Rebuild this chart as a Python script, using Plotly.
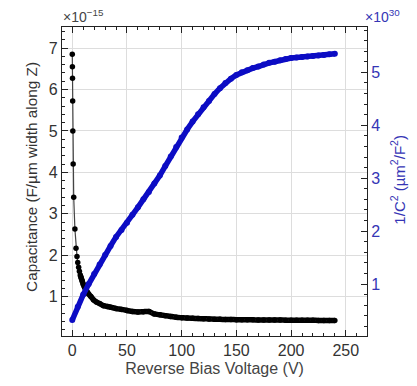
import plotly.graph_objects as go

# Capacitance (x1e-15 F/um) vs reverse bias voltage
cap_v = [0, 0.1, 0.2, 0.35, 0.5, 0.8, 1.3, 2.4, 3.4, 4.3, 5, 5.8, 6.5, 7.3, 8, 9, 10, 11, 12,
         13.4, 15, 17, 19.5, 22, 25, 28.6, 32, 35, 40, 45, 50, 55, 60, 65, 70, 75, 80, 85,
         90, 95, 100, 105, 110, 115, 120, 125, 130, 135, 140, 145, 150, 155, 160, 165, 170,
         175, 180, 185, 190, 195, 200, 205, 210, 215, 220, 225, 230, 235, 240]
cap_c = [6.85, 6.55, 6.27, 5.72, 5.0, 4.2, 3.4, 2.63, 2.17, 1.97, 1.82, 1.71, 1.61, 1.52,
         1.46, 1.38, 1.30, 1.24, 1.18, 1.12, 1.06, 1.00, 0.92, 0.87, 0.83, 0.78, 0.76, 0.745,
         0.71, 0.69, 0.665, 0.64, 0.63, 0.635, 0.64, 0.58, 0.56, 0.54, 0.52, 0.50, 0.49, 0.48,
         0.475, 0.47, 0.465, 0.46, 0.455, 0.45, 0.447, 0.445, 0.443, 0.441, 0.44, 0.438,
         0.436, 0.435, 0.434, 0.433, 0.432, 0.431, 0.43, 0.429, 0.428, 0.427, 0.426, 0.425,
         0.424, 0.422, 0.42]

# 1/C^2 (x1e30 um^2/F^2)
inv_v = [0, 5, 10, 15, 20, 25, 30, 35, 40, 45, 50, 55, 60, 65, 70, 75, 80, 85, 90, 95, 100,
         105, 110, 115, 120, 125, 130, 135, 140, 145, 150, 155, 160, 165, 170, 175, 180, 185,
         190, 195, 200, 205, 210, 215, 220, 225, 230, 235, 240]
inv_c = [0.32, 0.57, 0.80, 1.00, 1.19, 1.37, 1.55, 1.72, 1.89, 2.02, 2.16, 2.31, 2.45, 2.60,
         2.74, 2.90, 3.05, 3.23, 3.41, 3.59, 3.77, 3.92, 4.07, 4.21, 4.34, 4.46, 4.59, 4.70,
         4.80, 4.88, 4.95, 5.00, 5.04, 5.08, 5.11, 5.15, 5.18, 5.20, 5.23, 5.25, 5.27, 5.28,
         5.29, 5.30, 5.31, 5.32, 5.33, 5.34, 5.35]

x_ticks = [0, 50, 100, 150, 200, 250]
left_ticks = [1, 2, 3, 4, 5, 6, 7]
right_ticks = [1, 2, 3, 4, 5]

BLUE = "#0c0cc4"
AXBLUE = "#3535b5"
FONT = "Liberation Sans, Arial, sans-serif"
DENSE_FROM = 13  # index where the measured points become dense

fig = go.Figure()
# dense part of the capacitance curve drawn as a thick line of overlapping points
fig.add_trace(go.Scatter(x=cap_v[DENSE_FROM:], y=cap_c[DENSE_FROM:], mode="lines",
                         line=dict(color="black", width=5.5, shape="spline", smoothing=0.6),
                         yaxis="y", showlegend=False, hoverinfo="skip"))
fig.add_trace(go.Scatter(x=cap_v, y=cap_c, mode="lines+markers",
                         line=dict(color="#444444", width=1.2),
                         marker=dict(color="black", size=5.5),
                         yaxis="y", showlegend=False))
fig.add_trace(go.Scatter(x=inv_v, y=inv_c, mode="lines+markers",
                         line=dict(color=BLUE, width=5.5),
                         marker=dict(color=BLUE, size=6),
                         yaxis="y2", showlegend=False))

fig.update_layout(
    width=417, height=386,
    margin=dict(l=62, r=50, t=27, b=46),
    paper_bgcolor="white", plot_bgcolor="white",
    font=dict(family=FONT, size=16, color="#333333"),
    xaxis=dict(range=[-9.4, 269.4], tickvals=x_ticks, ticks="inside", ticklen=6,
               tickcolor="#222", linecolor="#222", linewidth=1.2, mirror="ticks",
               showgrid=True, gridcolor="#dddddd", gridwidth=1, zeroline=False,
               minor=dict(dtick=10, ticks="inside", ticklen=3, tickcolor="#222", showgrid=False),
               title=dict(text="Reverse Bias Voltage (V)", standoff=4,
                          font=dict(size=16, color="#444444")),
               tickfont=dict(size=16, color="#333333")),
    yaxis=dict(range=[0.048, 7.51], tickvals=left_ticks, ticks="inside", ticklen=6,
               tickcolor="#222", linecolor="#222", linewidth=1.2,
               showgrid=True, gridcolor="#dddddd", gridwidth=1, zeroline=False,
               minor=dict(dtick=0.2, tick0=0, ticks="inside", ticklen=3, tickcolor="#222",
                          showgrid=False),
               tickfont=dict(size=16, color="#333333")),
    yaxis2=dict(range=[0.018, 5.857], tickvals=right_ticks, overlaying="y", side="right",
                ticks="inside", ticklen=6, tickcolor="#222", linecolor="#222", linewidth=1.2,
                showline=True, showgrid=False, zeroline=False,
                minor=dict(dtick=0.2, tick0=0, ticks="inside", ticklen=3, tickcolor="#222",
                           showgrid=False),
                tickfont=dict(size=16, color=AXBLUE)),
    annotations=[
        dict(text="Capacitance (F/µm width along Z)", xref="paper", yref="paper",
             x=-0.1026, y=0.514, xanchor="center", yanchor="middle", textangle=-90,
             showarrow=False, font=dict(size=15.3, color="#333333")),
        dict(text="1/C<sup>2</sup> (µm<sup>2</sup>/F<sup>2</sup>)", xref="paper", yref="paper",
             x=1.1016, y=0.506, xanchor="center", yanchor="middle", textangle=-90,
             showarrow=False, font=dict(size=15, color=AXBLUE)),
        dict(text="×10<sup>−15</sup>", xref="paper", yref="paper", x=0, y=1,
             xanchor="left", yanchor="bottom", showarrow=False, yshift=0, xshift=-1,
             font=dict(size=14, color="#444444")),
        dict(text="×10<sup>30</sup>", xref="paper", yref="paper", x=1, y=1,
             xanchor="left", yanchor="bottom", showarrow=False, yshift=0, xshift=-4,
             font=dict(size=14, color=AXBLUE)),
    ],
)

fig.write_html("out.html")
